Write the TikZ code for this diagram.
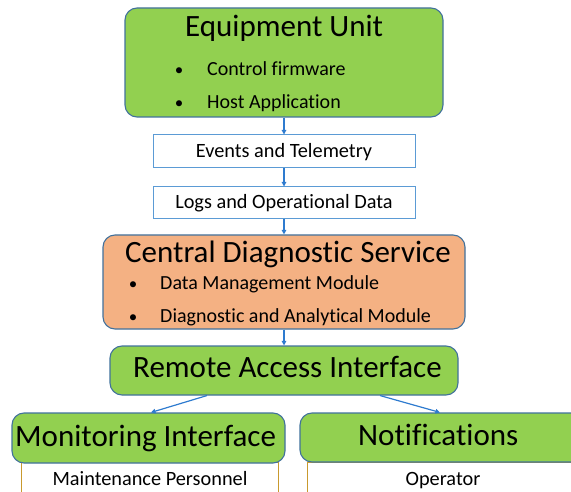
\documentclass[tikz,border=0pt]{standalone}
\usepackage{fontspec}
\setmainfont{Carlito}[RawFeature=-liga]
\usetikzlibrary{arrows.meta}
\definecolor{boxgreen}{HTML}{92D050}
\definecolor{boxorange}{HTML}{F4B183}
\definecolor{edgeblue}{HTML}{41719C}
\definecolor{lightblue}{HTML}{5B9BD5}
\definecolor{arrowblue}{HTML}{2E7BCF}
\definecolor{gold}{HTML}{C99A2E}
\tikzset{
  shapebox/.style={draw=edgeblue, line width=1.1pt, rounded corners=12pt, inner sep=0pt},
  flatbox/.style={draw=lightblue, line width=1pt, fill=white, inner sep=0pt},
  goldbox/.style={draw=gold, line width=1pt, fill=white, inner sep=0pt},
  flow/.style={draw=arrowblue, line width=1.2pt, -{Triangle[length=4.5pt,width=4.5pt]}},
  bigtxt/.style={anchor=base west, inner sep=0pt, font=\fontsize{31}{31}\selectfont},
  smalltxt/.style={anchor=base west, inner sep=0pt, font=\fontsize{20}{20}\selectfont},
  bullettxt/.style={anchor=base, inner sep=0pt, font=\fontsize{17}{17}\selectfont},
  ctrtxt/.style={anchor=base, inner sep=0pt, font=\fontsize{20.3}{20.3}\selectfont},
}
\begin{document}
\begin{tikzpicture}[x=1pt, y=-1pt]
\useasboundingbox (0,0) rectangle (571,492);
\clip (0,0) rectangle (571,492);
% boxes
\node[shapebox, fill=boxgreen, minimum width=318pt, minimum height=109pt] (eq) at (284,62.5) {};
\node[flatbox, minimum width=262pt, minimum height=33pt] (ev) at (284,151.5) {};
\node[flatbox, minimum width=262pt, minimum height=32pt] (lg) at (284,203) {};
\node[shapebox, fill=boxorange, minimum width=362pt, minimum height=94pt] (cd) at (284,282) {};
\node[shapebox, fill=boxgreen, minimum width=348pt, minimum height=49pt] (ra) at (284,370.5) {};
\node[goldbox, minimum width=257pt, minimum height=50pt] (mp) at (149.5,487) {};
\node[goldbox, minimum width=313pt, minimum height=50pt] (op) at (463.5,487) {};
\node[shapebox, fill=boxgreen, minimum width=273pt, minimum height=50pt] (mi) at (148.5,438) {};
\node[shapebox, fill=boxgreen, minimum width=300pt, minimum height=49pt] (nt) at (450,437.5) {};
% texts
\node[bigtxt] (eqt) at (185,37) {Equipment Unit};
\node[bullettxt] (b1) at (179,76) {•};
\node[smalltxt] (eq1) at (207,76) {Control firmware};
\node[bullettxt] (b2) at (179,109) {•};
\node[smalltxt] (eq2) at (207,109) {Host Application};
\node[ctrtxt] (evt) at (284,158) {Events and Telemetry};
\node[ctrtxt] (lgt) at (284,209) {Logs and Operational Data};
\node[bigtxt] (cdt) at (125,262) {Central Diagnostic Service};
\node[bullettxt] (b3) at (133,289) {•};
\node[smalltxt] (cd1) at (160,289) {Data Management Module};
\node[bullettxt] (b4) at (133,322) {•};
\node[smalltxt] (cd2) at (160,322) {Diagnostic and Analytical Module};
\node[bigtxt] (rat) at (133,377) {Remote Access Interface};
\node[bigtxt] (mit) at (15,446) {Monitoring Interface};
\node[bigtxt] (ntt) at (358,445) {Notifications};
\node[ctrtxt] (mpt) at (150,485) {Maintenance Personnel};
\node[ctrtxt] (opt) at (443,485) {Operator};
% connectors
\draw[flow] (eq.south) -- (ev.north);
\draw[flow] (ev.south) -- (lg.north);
\draw[flow] (lg.south) -- (cd.north);
\draw[flow] (cd.south) -- (ra.north);
\draw[flow] ([xshift=-77pt]ra.south) -- ([xshift=2.5pt]mi.north);
\draw[flow] ([xshift=96pt]ra.south) -- ([xshift=-10pt]nt.north);
\end{tikzpicture}
\end{document}
